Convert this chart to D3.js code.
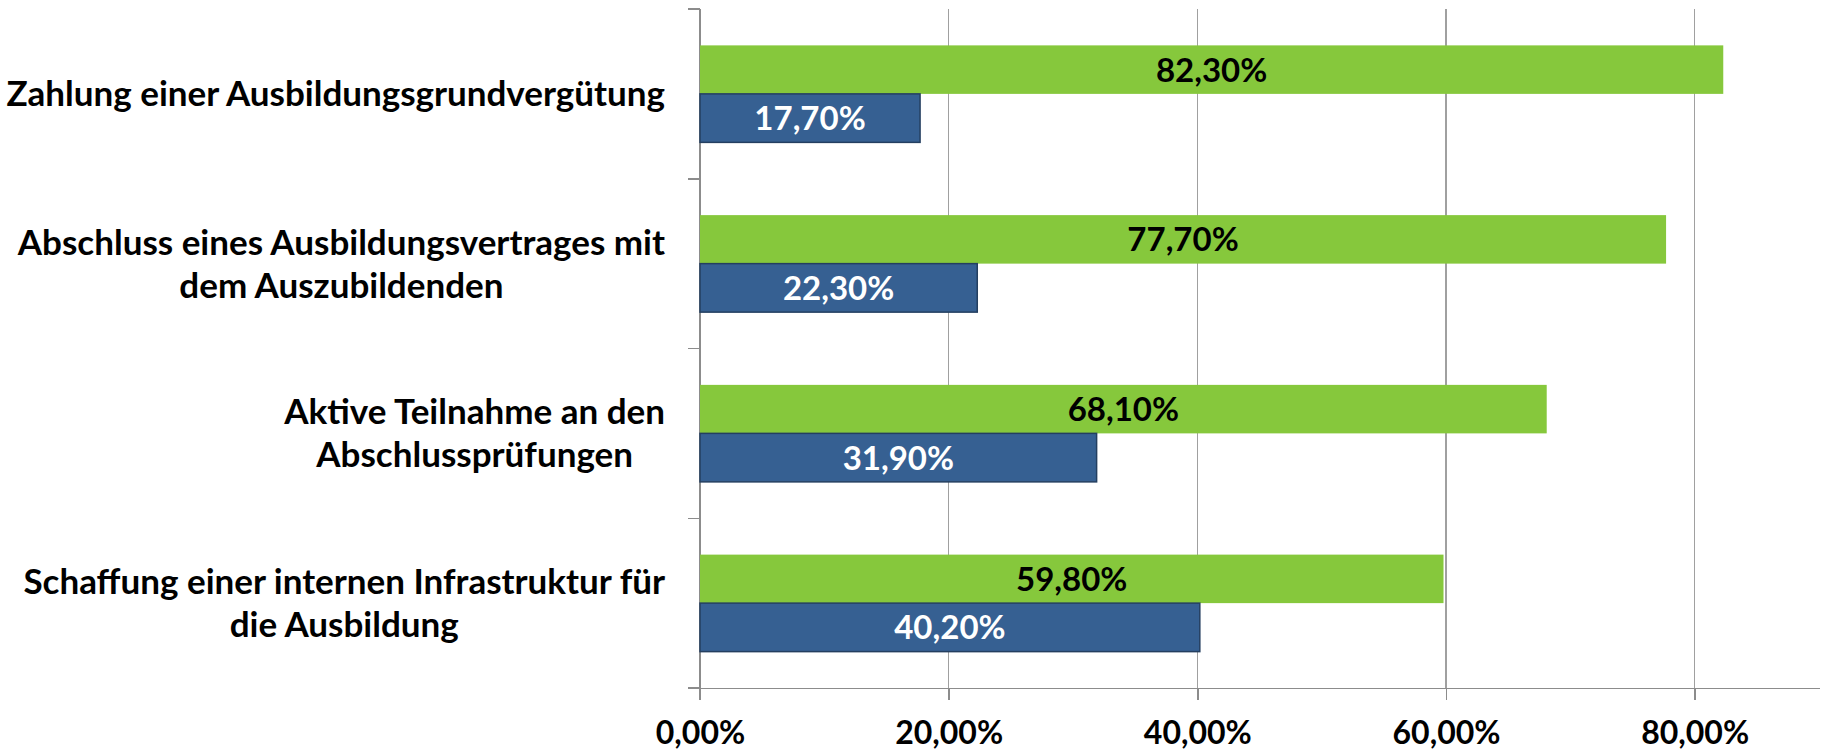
<!DOCTYPE html>
<html>
<head>
    <title>hbar-grouped</title>
    <meta charset="utf-8">
    <style type="text/css">
        body { margin: 0; background: #fff; }
        text { font-family: Lato, "Open Sans", sans-serif; font-weight: bold; }
        .grid line { stroke: #a0a0a0; stroke-width: 1.5; shape-rendering: crispEdges; }
        .axis path, .axis line { fill: none; stroke: #8c8c8c; stroke-width: 1.5; shape-rendering: crispEdges; }
        .axis text { font-size: 32px; fill: #000; }
        .cat-label { font-size: 35px; fill: #000; }
        .val-label { font-size: 33px; }
    </style>
</head>
<body>
<script src="https://cdn.jsdelivr.net/npm/d3@7"></script>
<script type="text/javascript">
    /*=========DATA=========*/
    var categories = [
        ['Zahlung einer Ausbildungsgrundvergütung'],
        ['Abschluss eines Ausbildungsvertrages mit', 'dem Auszubildenden'],
        ['Aktive Teilnahme an den', 'Abschlussprüfungen'],
        ['Schaffung einer internen Infrastruktur für', 'die Ausbildung']
    ];
    var greenValues = [82.3, 77.7, 68.1, 59.8];
    var blueValues = [17.7, 22.3, 31.9, 40.2];
    var xTicks = [0, 20, 40, 60, 80];
    var xMax = 90;

    var colors = { green: '#86c83c', blue: '#366092', blueStroke: '#243f60' };

    /*=====SIZE SVG======*/
    var svgWidth = 1823;
    var svgHeight = 754;
    var margin = { top: 9, right: 4, bottom: 66, left: 700 };
    var width = svgWidth - margin.left - margin.right;
    var height = svgHeight - margin.top - margin.bottom;

    var locale = d3.formatLocale({ decimal: ',', thousands: '.', grouping: [3], currency: ['', '€'] });
    var fmt = function (v) { return locale.format('.2f')(v) + '%'; };

    // scales
    var idx = d3.range(categories.length);
    var yScale = d3.scaleBand().domain(idx).range([0, height]).paddingInner(0).paddingOuter(0);
    var inner = d3.scaleBand().domain(['green', 'blue']).range([0, yScale.bandwidth()])
        .paddingInner(0).paddingOuter(0.75);
    var xScale = d3.scaleLinear().domain([0, xMax]).range([0, width]);

    var svg = d3.select('body').append('svg').attr('width', svgWidth).attr('height', svgHeight);
    var focus = svg.append('g').attr('transform', 'translate(' + margin.left + ',' + margin.top + ')');

    // gridlines
    focus.append('g').attr('class', 'grid')
        .selectAll('line').data(xTicks.slice(1)).enter().append('line')
        .attr('x1', function (d) { return xScale(d); })
        .attr('x2', function (d) { return xScale(d); })
        .attr('y1', 0).attr('y2', height);

    // x axis
    var xAxis = d3.axisBottom(xScale).tickValues(xTicks).tickSize(12).tickSizeOuter(0)
        .tickPadding(21).tickFormat(fmt);
    focus.append('g').attr('class', 'x axis')
        .attr('transform', 'translate(0,' + height + ')')
        .call(xAxis);

    // y axis: line with ticks at band borders
    var yAxisG = focus.append('g').attr('class', 'y axis');
    yAxisG.append('line').attr('x1', 0).attr('x2', 0).attr('y1', 0).attr('y2', height + 12);
    yAxisG.selectAll('.ytick').data(d3.range(categories.length + 1)).enter().append('line')
        .attr('class', 'ytick')
        .attr('x1', -12).attr('x2', 0)
        .attr('y1', function (d) { return d < categories.length ? yScale(d) : height; })
        .attr('y2', function (d) { return d < categories.length ? yScale(d) : height; });

    // bars
    var groups = focus.append('g').selectAll('.cat').data(idx).enter().append('g')
        .attr('transform', function (i) { return 'translate(0,' + yScale(i) + ')'; });

    groups.append('rect')
        .attr('x', 0).attr('y', inner('green'))
        .attr('width', function (i) { return xScale(greenValues[i]); })
        .attr('height', inner.bandwidth())
        .attr('fill', colors.green);

    groups.append('rect')
        .attr('x', 0).attr('y', inner('blue'))
        .attr('width', function (i) { return xScale(blueValues[i]); })
        .attr('height', inner.bandwidth())
        .attr('fill', colors.blue)
        .attr('stroke', colors.blueStroke).attr('stroke-width', 1.5);

    groups.append('text').attr('class', 'val-label')
        .attr('x', function (i) { return xScale(greenValues[i]) / 2; })
        .attr('y', inner('green') + inner.bandwidth() / 2)
        .attr('dy', '0.36em').attr('text-anchor', 'middle').attr('fill', '#000')
        .text(function (i) { return fmt(greenValues[i]); });

    groups.append('text').attr('class', 'val-label')
        .attr('x', function (i) { return xScale(blueValues[i]) / 2; })
        .attr('y', inner('blue') + inner.bandwidth() / 2)
        .attr('dy', '0.36em').attr('text-anchor', 'middle').attr('fill', '#fff')
        .text(function (i) { return fmt(blueValues[i]); });

    // category labels (centered block, right edge at 665)
    var labelRight = 665;
    var lineHeight = 43;
    var labelG = svg.append('g');
    categories.forEach(function (lines, i) {
        var cy = margin.top + yScale(i) + yScale.bandwidth() / 2;
        var t = labelG.append('text').attr('class', 'cat-label').attr('text-anchor', 'middle');
        lines.forEach(function (ln, j) {
            t.append('tspan').attr('x', 0)
                .attr('y', cy + (j - (lines.length - 1) / 2) * lineHeight)
                .attr('dy', '0.36em').text(ln);
        });
        var w = d3.max(t.selectAll('tspan').nodes(), function (n) { return n.getComputedTextLength(); });
        t.selectAll('tspan').attr('x', labelRight - w / 2);
    });
</script>
</body>
</html>
